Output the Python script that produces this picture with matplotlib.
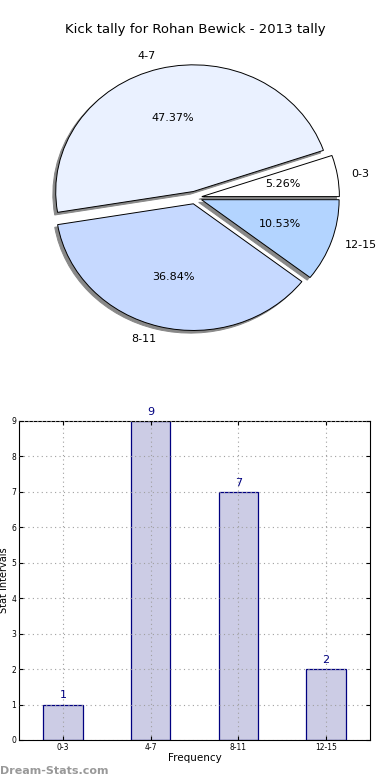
import matplotlib
matplotlib.use("Agg")
import matplotlib.pyplot as plt

categories = ["0-3", "4-7", "8-11", "12-15"]
counts = [1, 9, 7, 2]
pie_colors = ["#ffffff", "#eaf1ff", "#c6d9ff", "#b3d4ff"]
title = "Kick tally for Rohan Bewick - 2013 tally"

fig = plt.figure(figsize=(3.9, 7.8), dpi=100)

# pie chart (elliptical, like old matplotlib without equal aspect)
ax1 = fig.add_axes([0.059, 0.5436, 0.882, 0.406])
wedges, texts, autotexts = ax1.pie(
    counts, labels=categories, colors=pie_colors, explode=[0.05] * 4,
    shadow=dict(ox=-0.015, oy=-0.015, color="#888888", alpha=1),
    autopct="%1.2f%%", startangle=0, labeldistance=1.1,
    wedgeprops=dict(edgecolor="black", linewidth=0.7),
    textprops=dict(fontsize=8),
)
ax1.set_aspect("auto")
ax1.set_xlim(-1.25, 1.25)
ax1.set_ylim(-1.25, 1.25)
fig.text(0.5, 0.962, title, ha="center", va="center", fontsize=9.5)

# bar chart
ax2 = fig.add_axes([0.0487, 0.0513, 0.9, 0.409])
x = range(len(categories))
bars = ax2.bar(x, counts, width=0.45, color="#ccccE5", edgecolor="#000080",
               linewidth=0.9, zorder=1)
for xi, c in zip(x, counts):
    ax2.text(xi, c + 0.12, str(c), ha="center", va="bottom", color="#000080",
             fontsize=8)
ax2.set_xlim(-0.5, 3.5)
ax2.set_ylim(0, 9)
ax2.set_xticks(list(x))
ax2.set_xticklabels(categories)
ax2.set_yticks(range(10))
ax2.tick_params(direction="in", labelsize=5.5, top=True, right=True,
                length=3, pad=2)
# grid drawn over the bars, as in the original
ax2.grid(True, linestyle=(0, (1, 3)), color="#a0a0a0", linewidth=0.8, zorder=3)
ax2.set_axisbelow(False)
ax2.set_xlabel("Frequency", fontsize=7.5, labelpad=1)
ax2.set_ylabel("Stat Intervals", fontsize=7)
ax2.yaxis.set_label_coords(-0.028, 0.5)

fig.text(0.001, 0.012, "Dream-Stats.com", fontsize=8, color="#999999",
         fontweight="bold", ha="left", va="center")

fig.savefig("out.png", dpi=100)
